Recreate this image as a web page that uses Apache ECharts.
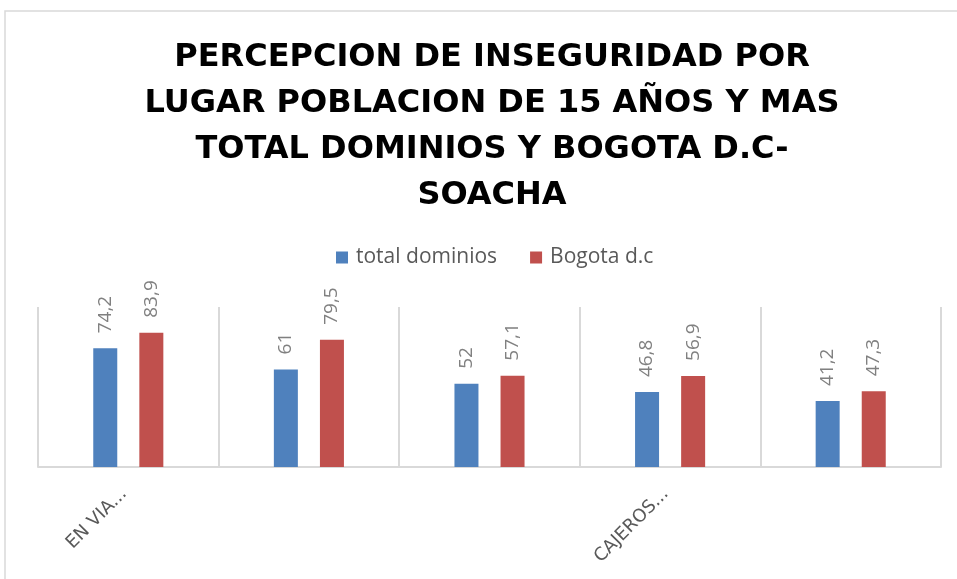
<!DOCTYPE html>
<html>
<head>
<meta charset="utf-8">
<script src="https://cdn.jsdelivr.net/npm/echarts@6/dist/echarts.min.js"></script>
<style>
  html, body { margin: 0; padding: 0; background: #fff; }
  #chart { width: 957px; height: 579px; }
</style>
</head>
<body>
<div id="chart"></div>
<script>
// datos
var categorias = ["EN VIA PUBLICA", "TRANSPORTE PUBLICO", "PUENTES PEATONALES", "CAJEROS AUTOMATICOS", "PARQUES"];
var totalDominios = [74.2, 61, 52, 46.8, 41.2];
var bogota = [83.9, 79.5, 57.1, 56.9, 47.3];
var etiquetasVisibles = { 0: "EN VIA...", 3: "CAJEROS..." };

var myChart = echarts.init(document.getElementById('chart'));

var etiqueta = {
    show: true,
    position: 'top',
    rotate: 90,
    align: 'left',
    verticalAlign: 'middle',
    distance: 15,
    color: '#808080',
    fontSize: 19,
    fontFamily: 'Open Sans',
    formatter: function (p) {
        return String(p.value).replace('.', ',');
    }
};

var option = {
    animation: false,
    title: {
        text: 'PERCEPCION DE INSEGURIDAD POR\nLUGAR POBLACION DE 15 AÑOS Y MAS\nTOTAL DOMINIOS Y BOGOTA D.C-\nSOACHA',
        left: 487,
        textAlign: 'center',
        top: 30,
        textStyle: {
            fontFamily: 'DejaVu Sans',
            fontWeight: 'bold',
            fontSize: 32,
            lineHeight: 46,
            color: '#000'
        }
    },
    legend: {
        top: 242,
        left: 331,
        itemWidth: 12,
        itemHeight: 12,
        itemGap: 33,
        icon: 'rect',
        textStyle: { fontFamily: 'Open Sans', fontSize: 21, color: '#595959', padding: [0, 0, 0, 3] },
        data: ['total dominios', 'Bogota d.c']
    },
    grid: { left: 38, right: 16, top: 307, bottom: 112, containLabel: false },
    xAxis: {
        type: 'category',
        data: categorias,
        axisLine: { lineStyle: { color: '#d9d9d9', width: 2 } },
        axisTick: { show: false },
        splitLine: { show: true, lineStyle: { color: '#d9d9d9', width: 2 } },
        axisLabel: {
            interval: 0,
            rotate: 45,
            margin: 20,
            color: '#595959',
            fontFamily: 'DejaVu Sans',
            fontSize: 18,
            padding: [0, 6, 0, 0],
            formatter: function (v, i) {
                return etiquetasVisibles[i] || '';
            }
        }
    },
    yAxis: {
        type: 'value',
        min: 0,
        max: 100,
        show: false,
        splitLine: { show: false }
    },
    graphic: [{
        type: 'rect',
        shape: { x: 5, y: 11, width: 1200, height: 1200 },
        style: { fill: 'none', stroke: '#d9d9d9', lineWidth: 1.5 },
        silent: true
    }],
    series: [{
        name: 'total dominios',
        type: 'bar',
        barWidth: 24,
        barGap: '92%',
        itemStyle: { color: '#4F81BD' },
        label: etiqueta,
        data: totalDominios
    }, {
        name: 'Bogota d.c',
        type: 'bar',
        barWidth: 24,
        barGap: '92%',
        itemStyle: { color: '#C0504D' },
        label: etiqueta,
        data: bogota
    }]
};
myChart.setOption(option);
</script>
</body>
</html>
